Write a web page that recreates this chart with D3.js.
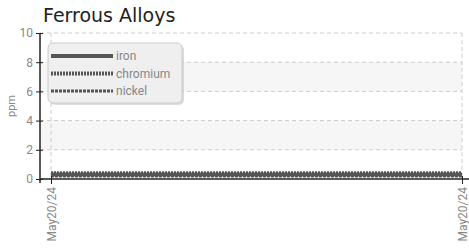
<!DOCTYPE html>
<html>
<head>
<meta charset="utf-8">
<script src="https://cdn.jsdelivr.net/npm/d3@7"></script>
<style>
  body { margin: 0; background: #fff; }
  svg { display: block; }
  .tick text { font-family: "Liberation Sans Narrow", "Roboto", sans-serif; fill: #888; font-size: 12px; }
</style>
</head>
<body>
<main></main>
<script>
// chart data
var dates = ['May20/24', 'May20/24'];
var iron = [0.3, 0.3];
var chromium = [0.4, 0.4];
var nickel = [0.2, 0.2];
var yTicks = [0, 2, 4, 6, 8, 10];
var seriesNames = ['iron', 'chromium', 'nickel'];

var series = [
    { name: seriesNames[0], values: iron, dash: null, width: 4 },
    { name: seriesNames[1], values: chromium, dash: '2,1', width: 4 },
    { name: seriesNames[2], values: nickel, dash: '3,1', width: 3 },
];

var W = 469, H = 249;
var pLeft = 40, pRight = 462, pTop = 33, pBottom = 179;

var svg = d3.select('main').append('svg')
    .attr('width', W)
    .attr('height', H);

var x = d3.scaleLinear()
    .domain([0, dates.length - 1])
    .range([51, pRight]);

var y = d3.scaleLinear()
    .domain([0, 10])
    .range([pBottom, pTop]);

// shaded bands
[[2, 4], [6, 8]].forEach(function(b) {
    svg.append('rect')
        .attr('x', pLeft)
        .attr('y', y(b[1]))
        .attr('width', pRight - pLeft)
        .attr('height', y(b[0]) - y(b[1]))
        .attr('fill', '#f6f6f6');
});

// horizontal grid
svg.selectAll('.hgrid')
    .data(yTicks.filter(d => d > 0))
    .enter().append('line')
    .attr('x1', pLeft).attr('x2', pRight)
    .attr('y1', d => y(d)).attr('y2', d => y(d))
    .attr('stroke', '#ccc')
    .attr('stroke-dasharray', '4,3');

// vertical grid
svg.selectAll('.vgrid')
    .data(dates.map((d, i) => i))
    .enter().append('line')
    .attr('x1', d => x(d)).attr('x2', d => x(d))
    .attr('y1', pTop).attr('y2', pBottom)
    .attr('stroke', '#ccc')
    .attr('stroke-dasharray', '4,3');

// lines
var line = d3.line()
    .x((d, i) => x(i))
    .y(d => y(d));

series.forEach(function(s) {
    svg.append('path')
        .attr('d', line(s.values))
        .attr('fill', 'none')
        .attr('stroke', '#555')
        .attr('stroke-width', s.width)
        .attr('stroke-dasharray', s.dash);
});

// axes
var yAxis = svg.append('g')
    .attr('transform', 'translate(' + pLeft + ',0)')
    .call(d3.axisLeft(y).tickValues(yTicks).tickSize(4).tickPadding(3));
yAxis.select('.domain').attr('stroke', '#222').attr('stroke-width', 1.5).attr('d', 'M0,' + pTop + 'V' + (pBottom + 4));
yAxis.selectAll('.tick line').attr('x2', 3).attr('x1', -4).attr('stroke', '#222');

var xAxis = svg.append('g')
    .attr('transform', 'translate(0,' + pBottom + ')')
    .call(d3.axisBottom(x).tickValues(dates.map((d, i) => i)).tickFormat(i => dates[i]).tickSize(5));
xAxis.select('.domain').attr('stroke', '#222').attr('stroke-width', 1.5).attr('d', 'M' + pLeft + ',0H' + W);
xAxis.selectAll('.tick line').attr('y1', -3).attr('stroke', '#222');
xAxis.selectAll('.tick text')
    .attr('transform', 'rotate(-90)')
    .attr('text-anchor', 'end')
    .attr('x', -8)
    .attr('y', 0)
    .attr('dy', '0.35em');

// y label
svg.append('text')
    .attr('transform', 'translate(15,106) rotate(-90)')
    .attr('text-anchor', 'middle')
    .attr('font-family', '"Liberation Sans Narrow", Roboto, sans-serif')
    .attr('font-size', 11)
    .attr('fill', '#888')
    .text('ppm');

// title
svg.append('text')
    .attr('x', 43)
    .attr('y', 22)
    .attr('font-family', '"DejaVu Sans", sans-serif')
    .attr('font-size', 19)
    .attr('fill', '#222')
    .text('Ferrous Alloys');

// legend
var legend = svg.append('g');
legend.append('rect')
    .attr('x', 49).attr('y', 44)
    .attr('width', 134).attr('height', 60)
    .attr('rx', 5)
    .attr('fill', '#bbb').attr('opacity', 0.5)
    .attr('transform', 'translate(1,1)');
legend.append('rect')
    .attr('x', 48).attr('y', 43)
    .attr('width', 134).attr('height', 60)
    .attr('rx', 5)
    .attr('fill', '#efefef')
    .attr('stroke', '#ccc');

legend.selectAll('.item')
    .data(series)
    .enter().append('g')
    .each(function(s, i) {
        var g = d3.select(this);
        var ly = 56 + i * 17.5;
        g.append('line')
            .attr('x1', 51).attr('x2', 113)
            .attr('y1', ly).attr('y2', ly)
            .attr('stroke', '#555')
            .attr('stroke-width', s.width)
            .attr('stroke-dasharray', s.dash);
        g.append('text')
            .attr('x', 116).attr('y', ly + 4)
            .attr('font-family', '"Liberation Sans Narrow", Roboto, sans-serif')
            .attr('font-size', 12)
            .attr('fill', '#888')
            .text(s.name);
    });
</script>
</body>
</html>
